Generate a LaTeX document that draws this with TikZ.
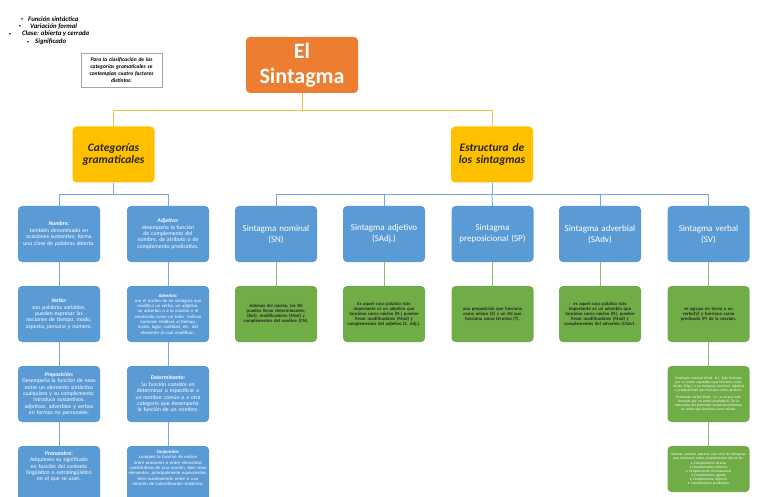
\documentclass[tikz,border=0pt]{standalone}
\usepackage{fontspec}
\setmainfont{Carlito}
\usetikzlibrary{shadows}
\definecolor{sorange}{HTML}{ED7D31}
\definecolor{syellow}{HTML}{FFC000}
\definecolor{sblue}{HTML}{5B9BD5}
\definecolor{sgreen}{HTML}{70AD47}
\definecolor{lblue}{HTML}{7AA7D9}
\definecolor{lgreen}{HTML}{8CBF6A}
\definecolor{lyellow}{HTML}{F4C04A}
\newcommand{\nohyph}{\hyphenpenalty=10000\exhyphenpenalty=10000 }
\begin{document}
\begin{tikzpicture}[x=1pt,y=-1pt,
  box/.style={rounded corners=4pt, minimum width=82pt, minimum height=56pt, inner sep=0pt, align=center},
  catbox/.style={box, fill=sblue, text=white, text width=79pt, font=\nohyph\fontsize{5.7}{6.4}\selectfont},
  smallcat/.style={catbox, font=\nohyph\fontsize{4.7}{5.3}\selectfont},
  sinbox/.style={box, fill=sblue, text=white, text width=76pt, font=\nohyph\fontsize{9}{11}\selectfont},
  grbox/.style={box, fill=sgreen, text=black!85, text width=74pt, font=\nohyph\bfseries\fontsize{4.7}{5}\selectfont},
  grsmall/.style={box, fill=sgreen, text=white, text width=77pt, font=\nohyph\fontsize{3.6}{4}\selectfont},
  yelbox/.style={box, fill=syellow, text=black!85, text width=80pt, font=\bfseries\itshape\fontsize{11.5}{12.2}\selectfont},
  yline/.style={draw=lyellow, line width=0.8pt},
  bline/.style={draw=lblue, line width=0.8pt},
  gline/.style={draw=lgreen, line width=0.8pt},
  bultext/.style={anchor=west, inner sep=0pt, font=\bfseries\itshape\fontsize{6.8}{7}\selectfont},
  bulmark/.style={inner sep=0pt, font=\fontsize{4.5}{4.5}\selectfont}
]
\useasboundingbox (0,0) rectangle (768,497);
\clip (0,0) rectangle (768,497);
\fill[white] (0,0) rectangle (768,497);

% bullet list
\node[bulmark] (m1) at (22,19) {•};
\node[bultext] (t1) at (28,19) {Función sintáctica};
\node[bulmark] (m2) at (20,26.5) {•};
\node[bultext] (t2) at (30,26.5) {Variación formal};
\node[bulmark] (m3) at (10,34) {•};
\node[bultext] (t3) at (22,34) {Clase: abierta y cerrada};
\node[bulmark] (m4) at (28,42) {•};
\node[bultext] (t4) at (35,42) {Significado};

% note
\node[draw=gray!70, fill=white, minimum width=81pt, minimum height=34pt, inner sep=0pt,
  text width=76pt, align=center, font=\nohyph\bfseries\itshape\fontsize{5.5}{6.8}\selectfont,
  drop shadow={opacity=0.35, shadow xshift=1.2pt, shadow yshift=-1.2pt}] (note) at (121.5,70)
  {Para la clasificación de las\\categorías gramaticales se\\contemplan cuatro factores\\distintos:};

% title
\node[box, fill=sorange, text=white, minimum width=112pt, minimum height=56pt,
  font=\bfseries\fontsize{22}{25}\selectfont] (sint) at (302,65) {El\\Sintagma};

% yellow
\node[yelbox] (cat) at (113.5,154.5) {Categorías\\gramaticales};
\node[yelbox] (est) at (492,154.5) {Estructura de\\los sintagmas};

\draw[yline] (sint.south) -- ++(0,17) coordinate (yj) -| (cat.north);
\draw[yline] (yj) -| (est.north);

% left categories
\node[catbox] (nom) at (59,234) {\textbf{\textit{Nombre:}}\\también denominado en ocasiones sustantivo, forma una clase de palabras abierta.};
\node[catbox] (adj) at (168,234) {\textbf{\textit{Adjetivo:}}\\desempeña la función de complemento del nombre, de atributo o de complemento predicativo.};
\node[catbox] (verb) at (59,314) {\textbf{\textit{Verbo:}}\\son palabras variables, pueden expresar las nociones de tiempo, modo, aspecto, persona y número.};
\node[smallcat] (adv) at (168,314) {\textbf{\textit{Adverbio:}}\\son el núcleo de un sintagma que modifica un verbo, un adjetivo, un adverbio o a la oración o el enunciado como un todo. Indican nociones relativas al tiempo, modo, lugar, cantidad, etc. del elemento al cual modifican.};
\node[catbox] (prep) at (59,394) {\textbf{\textit{Preposición:}}\\Desempeña la función de nexo entre un elemento sintáctico cualquiera y su complemento; introduce sustantivos, adjetivos, adverbios y verbos en formas no personales.};
\node[catbox] (det) at (168,394) {\textbf{\textit{Determinante:}}\\Su función consiste en determinar o especificar a un nombre común o a otra categoría que desempeña la función de un nombre.};
\fill[sblue, rounded corners=4pt] (18,446) rectangle (100,510);
\fill[sblue, rounded corners=4pt] (127,446) rectangle (209,510);
\node[inner sep=0pt, text width=79pt, align=center, text=white, anchor=north, font=\nohyph\fontsize{5.7}{6.4}\selectfont] (pron) at (59,451) {\textbf{\textit{Pronombre:}}\\Adquieren su significado en función del contexto lingüístico o extralingüístico en el que se usan.};
\node[inner sep=0pt, text width=79pt, align=center, text=white, anchor=north, font=\nohyph\fontsize{4.7}{5.3}\selectfont] (conj) at (168,450) {\textbf{\textit{Conjunción:}}\\cumplen la función de enlace entre oraciones o entre elementos constitutivos de una oración, bien sean elementos, principalmente equivalentes, bien manteniendo entre sí una relación de subordinación sintáctica.};
\coordinate (pront) at (59,446);
\coordinate (conjt) at (168,446);

\draw[bline] (cat.south) -- ++(0,12) coordinate (bj1) -| (nom.north);
\draw[bline] (bj1) -| (adj.north);
\draw[bline] (nom.south) -- (verb.north);
\draw[bline] (verb.south) -- (prep.north);
\draw[bline] (prep.south) -- (pront);
\draw[bline] (adj.south) -- (adv.north);
\draw[bline] (adv.south) -- (det.north);
\draw[bline] (det.south) -- (conjt);

% sintagmas
\node[sinbox] (sn) at (276,234) {Sintagma nominal\\(SN)};
\node[sinbox] (sadj) at (384,234) {Sintagma adjetivo\\(SAdj.)};
\node[sinbox] (sp) at (492.5,234) {Sintagma\\preposicional (SP)};
\node[sinbox] (sadv) at (600,234) {Sintagma adverbial\\(SAdv)};
\node[sinbox] (sv) at (708.5,234) {Sintagma verbal\\(SV)};

\draw[bline] (est.south) -- ++(0,12) coordinate (bj2) -| (sn.north);
\draw[bline] (bj2) -| (sadj.north);
\draw[bline] (bj2) -- (sp.north);
\draw[bline] (bj2) -| (sadv.north);
\draw[bline] (bj2) -| (sv.north);

% green
\node[grbox] (gsn) at (276,314) {Además del núcleo, los SN pueden llevar determinantes, (Det), modificadores (Mod) y complementos del nombre (CN).};
\node[grbox] (gsadj) at (384,314) {Es aquel cuya palabra más importante es un adjetivo que funciona como núcleo (N.) pueden llevar modificadores (Mod) y complementos del adjetivo (C. Adj.).};
\node[grbox] (gsp) at (492.5,314) {una preposición que funciona como enlace (E) y un SN que funciona como término (T).};
\node[grbox] (gsadv) at (600,314) {es aquel cuya palabra más importante es un adverbio que funciona como núcleo (N), pueden llevar modificadores (Mod) y complementos del adverbio (CAdv).};
\node[grbox] (gsv) at (708.5,314) {se agrupa en torno a un verbo(V) y funciona como predicado (P) de la oración.};
\node[grsmall] (pred) at (708.5,394) {Predicado nominal (Pred. N.): Está formado por un verbo copulativo que funciona como núcleo (Cóp.) y un sintagma (nominal, adjetival o preposicional) que funciona como atributo.\\[3pt]Predicado verbal (Pred. V.): es el que está formado por un verbo predicativo. En la estructura del predicado verbal encontramos un verbo que funciona como núcleo.};
\node[grsmall, minimum height=46pt] (comp) at (708.5,469) {Además, pueden aparecer una serie de sintagmas que funcionan como complementos del verbo:\\[1pt]• Complemento directo\\• Complemento indirecto\\• Complemento circunstancial\\• Complemento agente\\• Complemento régimen\\• Complemento predicativo};

\draw[gline] (sn.south) -- (gsn.north);
\draw[gline] (sadj.south) -- (gsadj.north);
\draw[gline] (sp.south) -- (gsp.north);
\draw[gline] (sadv.south) -- (gsadv.north);
\draw[gline] (sv.south) -- (gsv.north);
\draw[gline] (gsv.south) -- (pred.north);
\draw[gline] (pred.south) -- (comp.north);
\end{tikzpicture}
\end{document}
